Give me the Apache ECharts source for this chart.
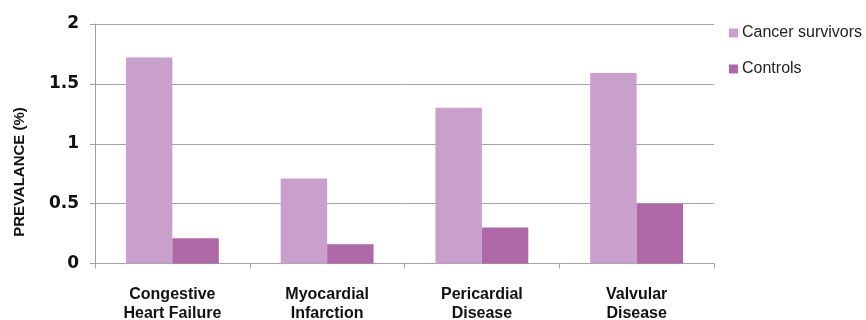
<!DOCTYPE html>
<html>
<head>
<meta charset="utf-8">
<script src="https://cdn.jsdelivr.net/npm/echarts@6/dist/echarts.min.js"></script>
<style>
  html, body { margin: 0; padding: 0; background: #fff; }
  #chart { width: 866px; height: 320px; }
</style>
</head>
<body>
<div id="chart"></div>
<script>
// Cardiovascular condition prevalence (%) among cancer survivors vs. controls
const categories = ['Congestive\nHeart Failure', 'Myocardial\nInfarction', 'Pericardial\nDisease', 'Valvular\nDisease'];
const survivors = [1.72, 0.71, 1.30, 1.59];
const controls = [0.21, 0.16, 0.30, 0.50];
const seriesNames = ['Cancer survivors', 'Controls'];
const yTicks = [0, 0.5, 1, 1.5, 2];

const chart = echarts.init(document.getElementById('chart'), null, { renderer: 'canvas' });
const axisGrey = '#a3a3a3';
const fontFamily = '"Liberation Sans", Arial, Helvetica, sans-serif';

chart.setOption({
  animation: false,
  grid: { left: 95, right: 152, top: 24, bottom: 56.5, containLabel: false, outerBoundsMode: 'none' },
  legend: {
    orient: 'vertical',
    left: 724,
    top: 20,
    itemWidth: 9,
    itemHeight: 9,
    itemGap: 20,
    icon: 'rect',
    data: seriesNames,
    textStyle: { fontFamily, fontSize: 16, color: '#222', padding: [0, 0, 0, -1] }
  },
  xAxis: {
    type: 'category',
    data: categories,
    axisLine: { lineStyle: { color: axisGrey, width: 1 } },
    axisTick: { show: true, alignWithLabel: false, length: 5, lineStyle: { color: axisGrey } },
    axisLabel: {
      margin: 22,
      fontFamily,
      fontSize: 16,
      fontWeight: 'bold',
      color: '#111',
      lineHeight: 19
    }
  },
  yAxis: {
    type: 'value',
    min: yTicks[0],
    max: yTicks[yTicks.length - 1],
    interval: 0.5,
    axisLine: { show: true, lineStyle: { color: axisGrey, width: 1 } },
    axisTick: { show: true, length: 5, lineStyle: { color: axisGrey } },
    splitLine: { lineStyle: { color: axisGrey, width: 1 } },
    axisLabel: {
      margin: 16,
      fontFamily: '"DejaVu Sans", sans-serif',
      fontSize: 17,
      fontWeight: 'bold',
      color: '#111'
    }
  },
  graphic: [{
    type: 'text',
    x: 20,
    y: 172,
    rotation: Math.PI / 2,
    style: {
      text: 'PREVALANCE (%)',
      font: 'bold 15px "Liberation Sans", Arial, sans-serif',
      fill: '#111',
      textAlign: 'center',
      textVerticalAlign: 'middle'
    }
  }],
  series: [
    {
      name: seriesNames[0],
      type: 'bar',
      data: survivors,
      barGap: '0%',
      barCategoryGap: '40%',
      itemStyle: { color: '#c9a0cb' }
    },
    {
      name: seriesNames[1],
      type: 'bar',
      data: controls,
      itemStyle: { color: '#ae68a8' }
    }
  ]
});
</script>
</body>
</html>
